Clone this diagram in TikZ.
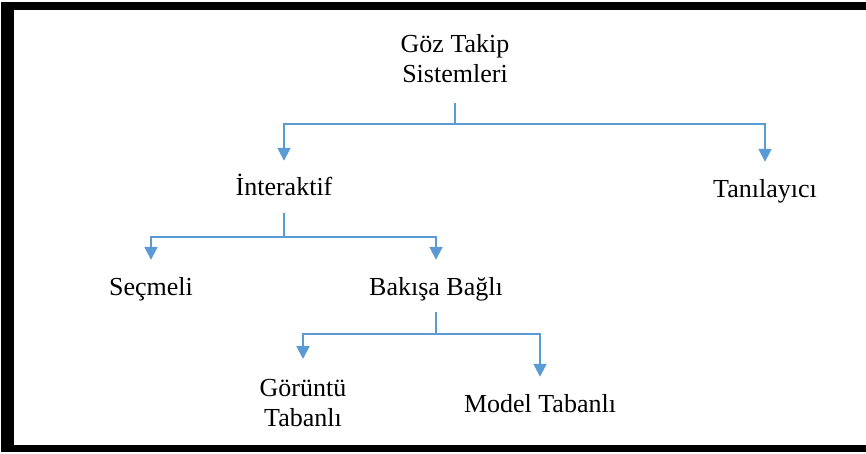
\documentclass[tikz,border=0pt]{standalone}
\usepackage{fontspec}
\setmainfont{Liberation Serif}
\usetikzlibrary{arrows.meta}
\definecolor{linkblue}{RGB}{91,155,213}
\begin{document}
\begin{tikzpicture}[x=1pt,y=-1pt,
  lbl/.style={font=\fontsize{26}{29}\selectfont, inner xsep=0pt, inner ysep=11pt,
              text height=24pt, text depth=6pt, anchor=base},
  lbltwo/.style={font=\fontsize{26}{30}\selectfont, inner xsep=0pt, inner ysep=20pt,
              align=center, anchor=north},
  link/.style={draw=linkblue, line width=2pt},
  arr/.style={link, -{Triangle[width=13pt,length=13pt]}}]
\useasboundingbox (0,0) rectangle (866,454);
% frame
\fill[black] (1,2) rectangle (866,10);
\fill[black] (1,2) rectangle (14,452);
\fill[black] (1,445) rectangle (866,452);
% nodes
\node[lbltwo] (root) at (455,14) {Göz Takip\\Sistemleri};
\node[lbl] (inter) at (284,196) {İnteraktif};
\node[lbl] (tan) at (765,197) {Tanılayıcı};
\node[lbl] (sec) at (151,295) {Seçmeli};
\node[lbl] (bak) at (436,295) {Bakışa Bağlı};
\node[lbltwo] (gor) at (303,359) {Görüntü\\Tabanlı};
\node[lbl] (mod) at (540,412) {Model Tabanlı};
% connectors
\draw[arr] (root.south) -- ++(0,21) -| (inter.north);
\draw[arr] (root.south) ++(0,21) -| (tan.north);
\draw[arr] (inter.south) -- ++(0,24) -| (sec.north);
\draw[arr] (inter.south) ++(0,24) -| (bak.north);
\draw[arr] (bak.south) -- ++(0,22) -| (gor.north);
\draw[arr] (bak.south) ++(0,22) -| (mod.north);
\end{tikzpicture}
\end{document}
